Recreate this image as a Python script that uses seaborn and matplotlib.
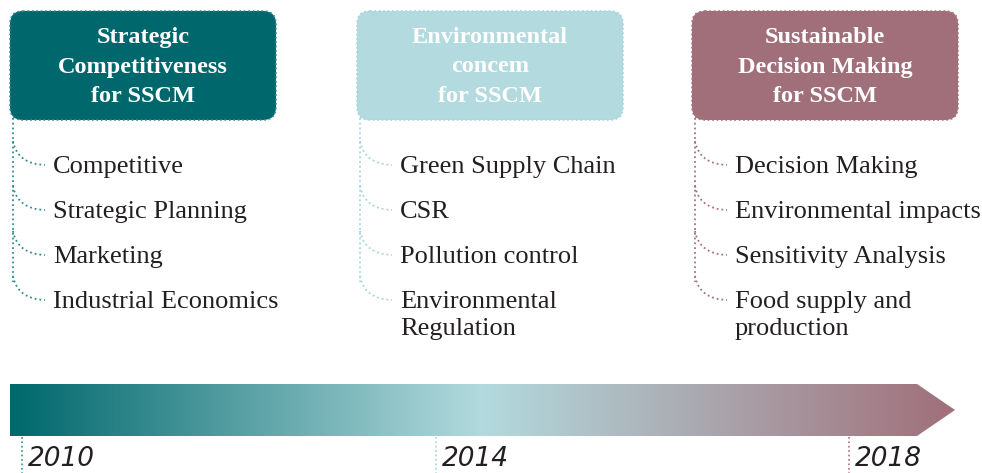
import numpy as np
import matplotlib
matplotlib.use("Agg")
import matplotlib.pyplot as plt
from matplotlib.patches import FancyBboxPatch, Polygon, PathPatch
from matplotlib.path import Path
import seaborn as sns

# --- data -------------------------------------------------------------
headers = ["Strategic\nCompetitiveness\nfor SSCM",
           "Environmental\nconcem\nfor SSCM",
           "Sustainable\nDecision Making\nfor SSCM"]
items = [["Competitive", "Strategic Planning", "Marketing", "Industrial Economics"],
         ["Green Supply Chain", "CSR", "Pollution control", "Environmental\nRegulation"],
         ["Decision Making", "Environmental impacts", "Sensitivity Analysis", "Food supply and\nproduction"]]
years = ["2010", "2014", "2018"]
box_colors = ["#00686c", "#b3dade", "#a06f7a"]
line_colors = ["#2f8d92", "#a3d5dc", "#a8707e"]

# --- layout (pixel coords) --------------------------------------------
box_left = [10, 357, 692]
box_w, box_top, box_bot = 266, 11, 120
item_base = [173, 218, 263, 308]
year_x = [22, 436, 849]

sns.set_style("white")
plt.rcParams["font.family"] = ["Liberation Serif", "DejaVu Serif"]

fig = plt.figure(figsize=(9.82, 4.73), dpi=100)
ax = fig.add_axes([0, 0, 1, 1])
ax.set_xlim(0, 982)
ax.set_ylim(473, 0)
ax.axis("off")

for i, head in enumerate(headers):
    x0 = box_left[i]
    box = FancyBboxPatch((x0, box_top), box_w, box_bot - box_top,
                         boxstyle="round,pad=0,rounding_size=13",
                         facecolor=box_colors[i], edgecolor=line_colors[i],
                         linestyle=":", linewidth=1.2, zorder=2)
    ax.add_patch(box)
    for j, line in enumerate(head.split("\n")):
        ax.text(x0 + box_w / 2, 43 + 29.5 * j, line, ha="center", va="baseline",
                fontsize=17.5, fontweight="bold", color="white", zorder=3)

    # connector tree
    vx = x0 + 3
    last = item_base[-1] - 8
    ax.plot([vx, vx], [box_bot - 2, last - 18], ls=":", lw=1.3,
            color=line_colors[i], zorder=1)
    for k, it in enumerate(items[i]):
        cy = item_base[k] - 8
        verts = [(vx, cy - 24), (vx + 4, cy - 1), (vx + 32, cy)]
        p = Path(verts, [Path.MOVETO, Path.CURVE3, Path.CURVE3])
        ax.add_patch(PathPatch(p, fill=False, ls=":", lw=1.3,
                               edgecolor=line_colors[i], zorder=1))
        for j, line in enumerate(it.split("\n")):
            ax.text(vx + 40, item_base[k] + 27 * j, line, ha="left", va="baseline",
                    fontsize=19, color="#231f20")

# --- gradient timeline arrow -----------------------------------------
cmap = sns.blend_palette(box_colors, as_cmap=True)
grad = np.linspace(0, 1, 512).reshape(1, -1)
im = ax.imshow(grad, cmap=cmap, aspect="auto", extent=[10, 955, 436, 384], zorder=2)
arrow = Polygon([(10, 384), (917, 384), (955, 410), (917, 436), (10, 436)],
                closed=True, facecolor="none", edgecolor="none")
ax.add_patch(arrow)
im.set_clip_path(arrow)

for i, yr in enumerate(years):
    ax.plot([year_x[i], year_x[i]], [437, 473], ls=":", lw=1.2, color=line_colors[i])
    ax.text(year_x[i] + 6, 466, yr, ha="left", va="baseline", fontsize=19,
            style="italic", color="#231f20",
            family=["DejaVu Sans"])

fig.savefig("out.png", dpi=100, facecolor="white")
